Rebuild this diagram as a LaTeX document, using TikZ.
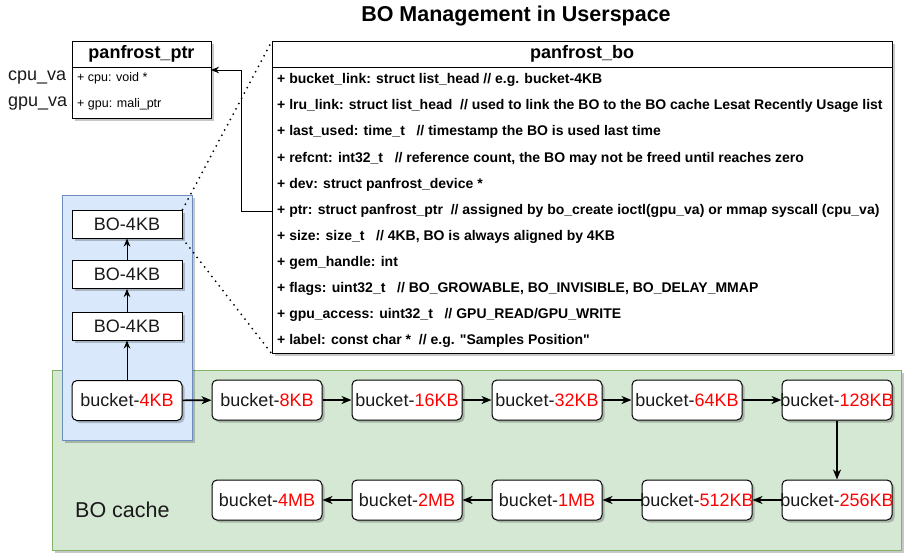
\documentclass[tikz,border=0pt]{standalone}
\usepackage{fontspec}
\setmainfont{Liberation Sans}
\usetikzlibrary{arrows.meta,shadows}
\definecolor{bluefill}{HTML}{DAE8FC}
\definecolor{blueline}{HTML}{6C8EBF}
\definecolor{greenfill}{HTML}{D5E8D4}
\definecolor{greenline}{HTML}{82B366}
\definecolor{kbred}{HTML}{FF0000}
\definecolor{ink}{HTML}{1A1A1A}
\newcommand{\bk}[1]{\makebox[0pt]{bucket-\textcolor{kbred}{#1}}}
\begin{document}
\begin{tikzpicture}[x=1pt,y=-1pt,
  shadowed/.style={drop shadow={shadow xshift=2.5pt,shadow yshift=-2.5pt,fill=black,opacity=0.22}},
  container/.style={shadowed,line width=0.8pt,anchor=north west,inner sep=0pt},
  bucket/.style={shadowed,draw=black,fill=white,rounded corners=5pt,line width=1pt,
    minimum width=110pt,minimum height=40pt,inner sep=0pt,text=ink,
    font=\fontsize{18}{21}\selectfont},
  bobox/.style={shadowed,draw=black,fill=white,line width=1pt,
    minimum width=110pt,minimum height=28pt,inner sep=0pt,text=ink,
    font=\fontsize{18}{21}\selectfont},
  structbox/.style={shadowed,draw=black,fill=white,line width=1pt,anchor=north west,inner sep=0pt},
  field/.style={anchor=west,inner sep=0pt,font=\bfseries\fontsize{14}{16}\selectfont},
  pfield/.style={anchor=west,inner sep=0pt,font=\fontsize{12.5}{15}\selectfont},
  chain/.style={line width=1.6pt,-{Stealth[length=10pt,width=8pt,inset=3pt]}},
  thinarrow/.style={line width=1pt,-{Stealth[length=8pt,width=6.5pt,inset=2.5pt]}},
  dots/.style={line width=2pt,dash pattern=on 0pt off 6pt,line cap=round}
]
\useasboundingbox (0,0) rectangle (904,554);

% title
\node[font=\bfseries\fontsize{21.5}{24}\selectfont] (title) at (516,16) {BO Management in Userspace};

% containers
\node[container,fill=greenfill,draw=greenline,minimum width=849pt,minimum height=180pt] (cache) at (52,370) {};
\node[container,fill=bluefill,draw=blueline,minimum width=130pt,minimum height=245pt] (lane) at (62,195) {};
\node[anchor=west,inner sep=0pt,text=ink,font=\fontsize{21.5}{24}\selectfont] (cachelbl) at (75,510) {BO cache};

% panfrost_ptr
\node[structbox,minimum width=139pt,minimum height=77pt] (ptr) at (72,41) {};
\draw[line width=1pt] (72,67) -- (211,67);
\node[font=\bfseries\fontsize{18}{21}\selectfont] (ptrtitle) at (141.5,54) {panfrost\_ptr};
\node[pfield] (pcpu) at (77,78) {+ cpu: void *};
\node[pfield] (pgpu) at (77,104) {+ gpu: mali\_ptr};
\node[anchor=west,inner sep=0pt,text=ink,font=\fontsize{18}{21}\selectfont] (cpuva) at (8,78) {cpu\_va};
\node[anchor=west,inner sep=0pt,text=ink,font=\fontsize{18}{21}\selectfont] (gpuva) at (8,104) {gpu\_va};

% panfrost_bo
\node[structbox,minimum width=620pt,minimum height=312pt] (bo) at (272,41) {};
\draw[line width=1pt] (272,67) -- (892,67);
\node[font=\bfseries\fontsize{18}{21}\selectfont] (botitle) at (582,54) {panfrost\_bo};
\node[field] (r1) at (277,80) {+ bucket\_link: struct list\_head // e.g. bucket-4KB};
\node[field] (r2) at (277,106) {+ lru\_link: struct list\_head\ \ // used to link the BO to the BO cache Lesat Recently Usage list};
\node[field] (r3) at (277,132) {+ last\_used: time\_t\ \ \ // timestamp the BO is used last time};
\node[field] (r4) at (277,158.5) {+ refcnt: int32\_t\ \ \ // reference count, the BO may not be freed until reaches zero};
\node[field] (r5) at (277,185) {+ dev: struct panfrost\_device *};
\node[field] (r6) at (277,211) {+ ptr: struct panfrost\_ptr\ \ // assigned by bo\_create ioctl(gpu\_va) or mmap syscall (cpu\_va)};
\node[field] (r7) at (277,237) {+ size: size\_t\ \ \ // 4KB, BO is always aligned by 4KB};
\node[field] (r8) at (277,263) {+ gem\_handle: int};
\node[field] (r9) at (277,289) {+ flags: uint32\_t\ \ \ // BO\_GROWABLE, BO\_INVISIBLE, BO\_DELAY\_MMAP};
\node[field] (r10) at (277,315) {+ gpu\_access: uint32\_t\ \ \ // GPU\_READ/GPU\_WRITE};
\node[field] (r11) at (277,341) {+ label: const char *\ \ // e.g. \textquotedbl Samples Position\textquotedbl};

% BO boxes
\node[bobox] (bo1) at (127,224) {BO-4KB};
\node[bobox] (bo2) at (127,274.5) {BO-4KB};
\node[bobox] (bo3) at (127,326) {BO-4KB};

% buckets
\node[bucket] (b4k) at (127,400.5) {\bk{4KB}};
\node[bucket] (b8k) at (267,400) {\bk{8KB}};
\node[bucket] (b16k) at (407,400) {\bk{16KB}};
\node[bucket] (b32k) at (547,400) {\bk{32KB}};
\node[bucket] (b64k) at (687,400) {\bk{64KB}};
\node[bucket] (b128k) at (837,400) {\bk{128KB}};
\node[bucket] (b256k) at (837,500) {\bk{256KB}};
\node[bucket] (b512k) at (697,500) {\bk{512KB}};
\node[bucket] (b1m) at (547,500) {\bk{1MB}};
\node[bucket] (b2m) at (407,500) {\bk{2MB}};
\node[bucket] (b4m) at (267,500) {\bk{4MB}};

% chain connectors
\draw[chain] (b4k) -- (b8k);
\draw[chain] (b8k) -- (b16k);
\draw[chain] (b16k) -- (b32k);
\draw[chain] (b32k) -- (b64k);
\draw[chain] (b64k) -- (b128k);
\draw[chain] (b128k) -- (b256k);
\draw[chain] (b256k) -- (b512k);
\draw[chain] (b512k) -- (b1m);
\draw[chain] (b1m) -- (b2m);
\draw[chain] (b2m) -- (b4m);

% BO list
\draw[thinarrow] (b4k) -- (bo3);
\draw[thinarrow] (bo3) -- (bo2);
\draw[thinarrow] (bo2) -- (bo1);

% ptr connector
\coordinate (ptrsrc) at (bo.west |- r6.west);
\coordinate (ptrdst) at (211,70);
\draw[thinarrow] (ptrsrc) -- ++(-31,0) |- (ptrdst);

% zoom lines
\draw[dots] (bo1.north east) -- (bo.north west);
\draw[dots] (bo1.south east) -- (bo.south west);
\end{tikzpicture}
\end{document}
